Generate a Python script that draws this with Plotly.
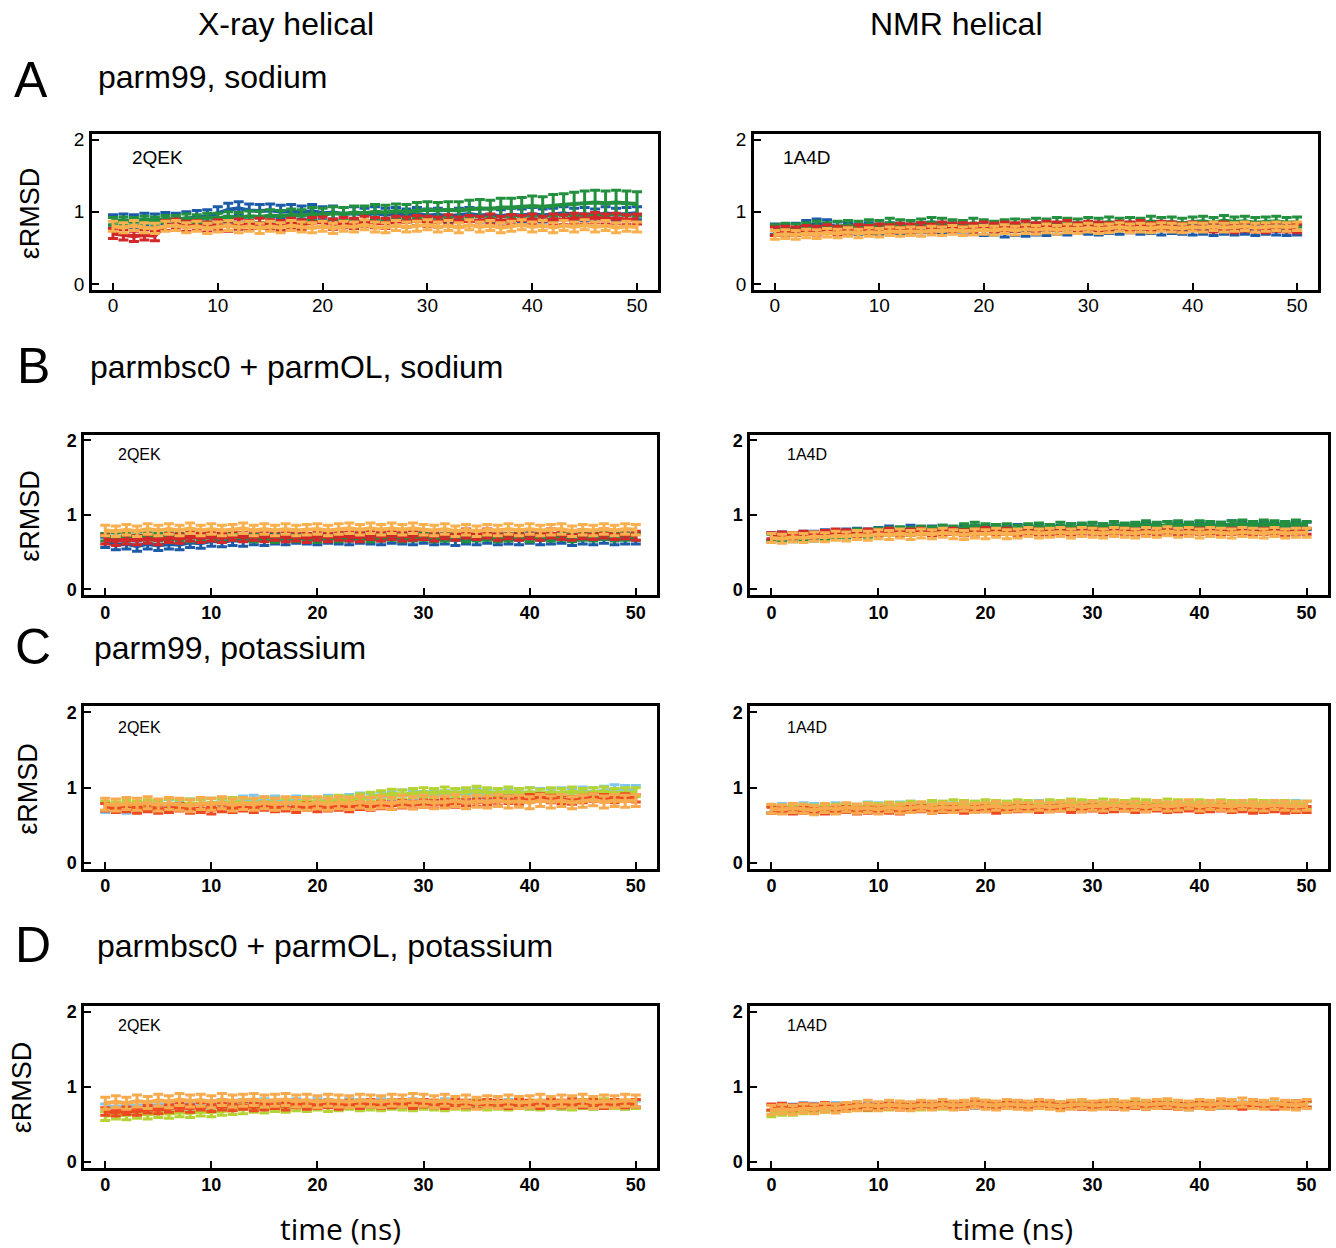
import plotly.graph_objects as go

W, H = 1336, 1248

# ---------------- data ----------------
time_ns = list(range(0, 51))
x_ticks = [0, 10, 20, 30, 40, 50]
y_ticks = [0, 1, 2]
col_titles = ["X-ray helical", "NMR helical"]
row_letters = ["A", "B", "C", "D"]
row_titles = ["parm99, sodium", "parmbsc0 + parmOL, sodium",
              "parm99, potassium", "parmbsc0 + parmOL, potassium"]
panel_labels = ["2QEK", "1A4D"]

sodium_colors = ["#1c5ba8", "#23903f", "#d3282a", "#f9b04e"]
potassium_colors = ["#7fc7ef", "#b6d336", "#ee4a22", "#f8aa4e"]

# Row A, left (2QEK, parm99 sodium): blue, green, red, orange
A_L_blue = [0.87,0.88,0.87,0.89,0.88,0.90,0.89,0.91,0.93,0.94,0.98,1.03,1.05,1.02,1.01,1.02,1.00,1.01,0.99,1.01,0.98,0.99,0.97,0.98,0.96,0.98,0.96,0.97,0.95,0.97,0.95,0.96,0.94,0.96,0.97,0.95,0.96,0.94,0.96,0.95,0.97,0.95,0.96,0.98,0.96,0.97,0.95,0.98,0.96,0.97,0.98]
A_L_green = [0.87,0.88,0.87,0.89,0.88,0.90,0.89,0.91,0.90,0.92,0.91,0.93,0.92,0.94,0.93,0.95,0.94,0.96,0.95,0.97,0.96,0.98,0.97,0.99,0.98,1.00,0.99,1.01,1.00,1.02,1.03,1.02,1.03,1.02,1.04,1.05,1.04,1.06,1.06,1.07,1.08,1.07,1.09,1.10,1.11,1.12,1.13,1.12,1.13,1.12,1.11]
A_L_red = [0.70,0.68,0.66,0.68,0.67,0.81,0.83,0.80,0.81,0.79,0.82,0.80,0.83,0.81,0.84,0.82,0.81,0.84,0.82,0.85,0.86,0.83,0.85,0.84,0.87,0.85,0.84,0.87,0.86,0.88,0.87,0.86,0.89,0.86,0.88,0.87,0.90,0.87,0.89,0.88,0.90,0.87,0.90,0.89,0.91,0.90,0.92,0.90,0.91,0.89,0.90]
A_L_orange = [0.80,0.78,0.81,0.78,0.77,0.80,0.81,0.78,0.80,0.77,0.79,0.81,0.78,0.80,0.77,0.80,0.78,0.81,0.79,0.78,0.80,0.77,0.80,0.79,0.82,0.79,0.78,0.81,0.79,0.80,0.82,0.79,0.81,0.78,0.82,0.79,0.81,0.78,0.80,0.82,0.79,0.81,0.78,0.81,0.79,0.82,0.79,0.81,0.78,0.80,0.79]
A_L_green_err = [0.05,0.05,0.05,0.05,0.05,0.05,0.06,0.06,0.06,0.06,0.07,0.07,0.07,0.07,0.08,0.08,0.08,0.08,0.08,0.09,0.09,0.09,0.09,0.09,0.10,0.10,0.10,0.10,0.10,0.11,0.11,0.11,0.11,0.12,0.12,0.12,0.12,0.13,0.13,0.13,0.14,0.14,0.15,0.15,0.16,0.17,0.17,0.17,0.17,0.17,0.17]
A_L_err = [0.09, None, 0.07, 0.07]

# Row A, right (1A4D)
A_R_blue = [0.76,0.75,0.77,0.81,0.83,0.82,0.79,0.78,0.76,0.78,0.76,0.78,0.77,0.76,0.78,0.79,0.77,0.78,0.75,0.76,0.74,0.75,0.72,0.74,0.73,0.75,0.74,0.76,0.75,0.77,0.76,0.75,0.77,0.76,0.78,0.76,0.77,0.75,0.77,0.76,0.75,0.76,0.74,0.76,0.75,0.76,0.74,0.76,0.75,0.74,0.75]
A_R_green = [0.75,0.77,0.76,0.78,0.80,0.78,0.80,0.81,0.80,0.82,0.81,0.84,0.82,0.81,0.83,0.85,0.84,0.82,0.81,0.84,0.82,0.80,0.82,0.83,0.82,0.84,0.83,0.85,0.84,0.83,0.85,0.84,0.86,0.84,0.85,0.84,0.87,0.85,0.86,0.84,0.86,0.87,0.85,0.88,0.86,0.87,0.85,0.86,0.87,0.85,0.86]
A_R_red = [0.73,0.74,0.73,0.75,0.74,0.76,0.74,0.73,0.76,0.75,0.77,0.76,0.78,0.77,0.79,0.77,0.80,0.78,0.79,0.78,0.80,0.78,0.80,0.79,0.81,0.79,0.81,0.80,0.82,0.79,0.81,0.80,0.79,0.81,0.80,0.82,0.79,0.81,0.80,0.78,0.80,0.79,0.78,0.80,0.77,0.79,0.78,0.77,0.79,0.78,0.77]
A_R_orange = [0.68,0.69,0.68,0.70,0.69,0.71,0.70,0.72,0.70,0.72,0.71,0.73,0.72,0.73,0.72,0.74,0.73,0.75,0.73,0.74,0.75,0.74,0.76,0.74,0.76,0.75,0.77,0.75,0.77,0.76,0.78,0.76,0.77,0.79,0.77,0.78,0.77,0.79,0.78,0.77,0.79,0.78,0.80,0.78,0.79,0.80,0.78,0.79,0.80,0.79,0.80]
A_R_err = [0.07, 0.07, 0.06, 0.06]

# Row B, left (2QEK, parmbsc0 + parmOL sodium)
B_L_blue = [0.63,0.60,0.61,0.58,0.61,0.59,0.61,0.60,0.63,0.62,0.65,0.64,0.66,0.65,0.67,0.66,0.68,0.67,0.69,0.68,0.67,0.69,0.68,0.67,0.69,0.68,0.67,0.69,0.68,0.67,0.69,0.67,0.68,0.66,0.68,0.67,0.69,0.67,0.68,0.67,0.69,0.67,0.68,0.69,0.66,0.68,0.67,0.69,0.67,0.68,0.68]
B_L_green = [0.70,0.71,0.70,0.72,0.71,0.70,0.71,0.70,0.69,0.71,0.70,0.69,0.71,0.70,0.69,0.70,0.68,0.70,0.69,0.70,0.68,0.70,0.69,0.70,0.71,0.69,0.70,0.71,0.69,0.70,0.71,0.69,0.70,0.71,0.69,0.70,0.71,0.69,0.70,0.71,0.69,0.71,0.70,0.71,0.69,0.71,0.70,0.72,0.70,0.71,0.71]
B_L_red = [0.67,0.65,0.67,0.66,0.68,0.66,0.69,0.68,0.71,0.69,0.71,0.69,0.72,0.70,0.72,0.70,0.72,0.70,0.71,0.69,0.72,0.70,0.72,0.71,0.70,0.73,0.71,0.73,0.71,0.72,0.73,0.71,0.74,0.72,0.75,0.73,0.75,0.72,0.74,0.72,0.74,0.72,0.75,0.73,0.72,0.74,0.73,0.75,0.73,0.74,0.72]
B_L_orange = [0.79,0.78,0.80,0.78,0.81,0.79,0.81,0.79,0.82,0.79,0.81,0.79,0.80,0.82,0.79,0.81,0.79,0.81,0.79,0.80,0.81,0.79,0.81,0.82,0.80,0.82,0.80,0.82,0.80,0.82,0.80,0.79,0.81,0.78,0.80,0.78,0.80,0.79,0.81,0.79,0.81,0.79,0.80,0.81,0.78,0.80,0.79,0.81,0.79,0.81,0.80]
B_L_err = [0.07, 0.05, 0.06, 0.07]

# Row B, right (1A4D)
B_R_blue = [0.71,0.72,0.71,0.73,0.73,0.75,0.74,0.76,0.77,0.76,0.78,0.80,0.78,0.81,0.79,0.80,0.81,0.79,0.80,0.81,0.80,0.82,0.80,0.82,0.81,0.83,0.82,0.81,0.83,0.82,0.84,0.83,0.85,0.83,0.84,0.85,0.83,0.86,0.84,0.85,0.86,0.84,0.85,0.87,0.86,0.85,0.86,0.84,0.86,0.85,0.85]
B_R_green = [0.69,0.70,0.69,0.71,0.70,0.72,0.73,0.74,0.76,0.75,0.77,0.78,0.79,0.78,0.80,0.79,0.81,0.80,0.83,0.85,0.83,0.82,0.83,0.81,0.83,0.84,0.82,0.85,0.83,0.84,0.85,0.83,0.86,0.84,0.85,0.87,0.85,0.86,0.87,0.85,0.87,0.86,0.85,0.87,0.88,0.86,0.88,0.87,0.86,0.88,0.86]
B_R_red = [0.72,0.73,0.72,0.74,0.73,0.75,0.77,0.76,0.75,0.77,0.76,0.78,0.76,0.77,0.78,0.76,0.77,0.78,0.76,0.77,0.79,0.77,0.78,0.76,0.78,0.77,0.76,0.78,0.77,0.76,0.78,0.77,0.76,0.78,0.77,0.78,0.76,0.78,0.77,0.76,0.78,0.77,0.76,0.78,0.77,0.76,0.78,0.77,0.76,0.78,0.78]
B_R_orange = [0.69,0.68,0.70,0.69,0.71,0.70,0.72,0.71,0.73,0.72,0.74,0.73,0.75,0.73,0.75,0.74,0.76,0.74,0.73,0.75,0.74,0.76,0.74,0.75,0.77,0.75,0.76,0.77,0.75,0.77,0.76,0.75,0.77,0.76,0.75,0.77,0.76,0.78,0.76,0.77,0.75,0.77,0.76,0.75,0.77,0.76,0.75,0.77,0.75,0.76,0.76]
B_R_err = [0.05, 0.05, 0.04, 0.06]

# Row C, left (2QEK, parm99 potassium): light blue, yellow-green, orange-red, light orange
C_L_lblue = [0.73,0.74,0.72,0.75,0.77,0.76,0.78,0.77,0.79,0.78,0.80,0.81,0.80,0.83,0.84,0.82,0.83,0.81,0.83,0.82,0.81,0.84,0.83,0.85,0.87,0.86,0.88,0.89,0.91,0.90,0.89,0.91,0.90,0.92,0.91,0.93,0.91,0.92,0.93,0.92,0.94,0.93,0.92,0.94,0.93,0.95,0.94,0.96,0.98,0.97,0.97]
C_L_ygreen = [0.76,0.75,0.77,0.76,0.78,0.77,0.79,0.78,0.79,0.78,0.80,0.79,0.81,0.80,0.79,0.81,0.80,0.79,0.81,0.82,0.80,0.82,0.84,0.83,0.86,0.88,0.90,0.92,0.91,0.93,0.94,0.93,0.95,0.93,0.94,0.96,0.94,0.93,0.95,0.93,0.94,0.92,0.94,0.93,0.95,0.93,0.94,0.95,0.93,0.94,0.94]
C_L_ored = [0.74,0.72,0.73,0.71,0.73,0.71,0.72,0.74,0.71,0.72,0.70,0.73,0.72,0.74,0.72,0.75,0.73,0.74,0.72,0.75,0.73,0.74,0.75,0.73,0.76,0.75,0.77,0.76,0.78,0.77,0.79,0.78,0.80,0.79,0.81,0.80,0.82,0.81,0.84,0.83,0.86,0.87,0.85,0.84,0.83,0.85,0.87,0.86,0.85,0.87,0.86]
C_L_lorange = [0.78,0.77,0.79,0.78,0.80,0.77,0.79,0.78,0.76,0.79,0.78,0.80,0.77,0.79,0.78,0.80,0.78,0.80,0.79,0.78,0.80,0.78,0.80,0.79,0.81,0.79,0.81,0.79,0.82,0.80,0.82,0.80,0.81,0.83,0.80,0.82,0.81,0.83,0.81,0.82,0.80,0.83,0.81,0.83,0.80,0.82,0.84,0.81,0.83,0.82,0.83]
C_L_err = [0.06, 0.06, 0.05, 0.08]

# Row C, right (1A4D)
C_R_lblue = [0.72,0.74,0.73,0.75,0.74,0.73,0.75,0.74,0.73,0.76,0.75,0.74,0.76,0.77,0.75,0.76,0.77,0.75,0.76,0.77,0.75,0.76,0.77,0.75,0.76,0.78,0.76,0.77,0.75,0.77,0.78,0.76,0.77,0.78,0.76,0.78,0.77,0.76,0.78,0.77,0.76,0.78,0.77,0.78,0.76,0.77,0.78,0.76,0.77,0.78,0.77]
C_R_ygreen = [0.71,0.72,0.71,0.73,0.72,0.71,0.73,0.74,0.73,0.75,0.74,0.76,0.75,0.77,0.76,0.78,0.77,0.79,0.78,0.77,0.79,0.78,0.77,0.79,0.78,0.77,0.79,0.78,0.80,0.79,0.78,0.80,0.79,0.78,0.80,0.79,0.78,0.80,0.79,0.78,0.79,0.77,0.79,0.78,0.77,0.79,0.78,0.77,0.78,0.77,0.77]
C_R_ored = [0.70,0.71,0.69,0.70,0.71,0.69,0.70,0.71,0.69,0.70,0.71,0.70,0.69,0.71,0.72,0.70,0.71,0.72,0.70,0.71,0.72,0.70,0.71,0.72,0.73,0.71,0.72,0.73,0.71,0.72,0.73,0.71,0.72,0.73,0.71,0.72,0.73,0.71,0.72,0.73,0.71,0.72,0.73,0.71,0.72,0.70,0.71,0.72,0.70,0.71,0.71]
C_R_lorange = [0.72,0.71,0.73,0.72,0.70,0.73,0.71,0.74,0.72,0.73,0.71,0.74,0.72,0.73,0.75,0.72,0.74,0.73,0.75,0.73,0.74,0.76,0.73,0.75,0.74,0.76,0.74,0.75,0.77,0.74,0.76,0.75,0.77,0.75,0.76,0.74,0.77,0.75,0.76,0.78,0.75,0.77,0.76,0.75,0.77,0.76,0.75,0.77,0.76,0.75,0.76]
C_R_err = [0.05, 0.05, 0.04, 0.06]

# Row D, left (2QEK, parmbsc0 + parmOL potassium)
D_L_lblue = [0.72,0.74,0.73,0.75,0.74,0.76,0.75,0.77,0.75,0.77,0.76,0.78,0.76,0.78,0.77,0.79,0.77,0.78,0.79,0.77,0.79,0.78,0.77,0.79,0.78,0.77,0.79,0.78,0.77,0.79,0.78,0.77,0.79,0.78,0.77,0.79,0.77,0.76,0.78,0.77,0.75,0.77,0.76,0.75,0.77,0.76,0.75,0.77,0.76,0.75,0.76]
D_L_ygreen = [0.61,0.63,0.62,0.64,0.63,0.65,0.64,0.66,0.65,0.67,0.66,0.68,0.69,0.70,0.72,0.71,0.73,0.72,0.74,0.73,0.75,0.73,0.74,0.76,0.74,0.75,0.74,0.76,0.75,0.74,0.76,0.75,0.74,0.76,0.75,0.77,0.75,0.76,0.75,0.77,0.76,0.75,0.77,0.76,0.75,0.77,0.76,0.78,0.77,0.76,0.77]
D_L_ored = [0.67,0.66,0.68,0.67,0.70,0.69,0.71,0.73,0.71,0.74,0.72,0.74,0.73,0.75,0.73,0.74,0.76,0.74,0.77,0.75,0.76,0.77,0.75,0.77,0.76,0.78,0.76,0.77,0.78,0.76,0.78,0.77,0.76,0.78,0.77,0.76,0.78,0.77,0.76,0.78,0.77,0.76,0.78,0.77,0.79,0.77,0.78,0.76,0.78,0.77,0.78]
D_L_lorange = [0.78,0.80,0.78,0.81,0.79,0.82,0.80,0.83,0.81,0.82,0.80,0.83,0.81,0.82,0.83,0.81,0.82,0.83,0.81,0.82,0.80,0.82,0.81,0.80,0.82,0.81,0.80,0.82,0.81,0.83,0.82,0.80,0.82,0.79,0.81,0.78,0.80,0.79,0.81,0.79,0.80,0.82,0.79,0.81,0.80,0.82,0.79,0.81,0.80,0.82,0.81]
D_L_err = [0.05, 0.06, 0.05, 0.08]

# Row D, right (1A4D)
D_R_lblue = [0.72,0.74,0.73,0.75,0.74,0.73,0.75,0.74,0.76,0.75,0.74,0.76,0.75,0.74,0.76,0.75,0.76,0.74,0.76,0.75,0.77,0.75,0.76,0.77,0.75,0.76,0.77,0.75,0.76,0.77,0.75,0.76,0.77,0.75,0.76,0.77,0.76,0.75,0.74,0.73,0.75,0.76,0.75,0.77,0.76,0.75,0.77,0.76,0.75,0.77,0.76]
D_R_ygreen = [0.64,0.66,0.66,0.68,0.69,0.70,0.72,0.71,0.73,0.72,0.74,0.73,0.75,0.74,0.73,0.75,0.74,0.76,0.75,0.77,0.78,0.76,0.77,0.75,0.76,0.77,0.75,0.76,0.77,0.75,0.76,0.77,0.75,0.76,0.77,0.75,0.76,0.77,0.75,0.76,0.77,0.75,0.76,0.77,0.75,0.76,0.77,0.75,0.76,0.77,0.76]
D_R_ored = [0.73,0.74,0.72,0.74,0.73,0.75,0.73,0.74,0.75,0.73,0.75,0.74,0.73,0.75,0.76,0.74,0.75,0.76,0.74,0.76,0.77,0.75,0.76,0.77,0.75,0.76,0.77,0.75,0.76,0.74,0.76,0.75,0.74,0.76,0.75,0.74,0.76,0.75,0.74,0.76,0.75,0.74,0.76,0.75,0.74,0.76,0.75,0.74,0.76,0.77,0.77]
D_R_lorange = [0.69,0.70,0.69,0.71,0.70,0.72,0.71,0.73,0.74,0.76,0.74,0.76,0.75,0.74,0.76,0.75,0.77,0.75,0.76,0.78,0.76,0.75,0.77,0.76,0.75,0.77,0.76,0.74,0.76,0.77,0.75,0.76,0.77,0.75,0.78,0.76,0.77,0.78,0.76,0.75,0.77,0.76,0.78,0.77,0.79,0.77,0.76,0.78,0.76,0.75,0.77]
D_R_err = [0.04, 0.04, 0.04, 0.06]

panels = [
    # (series, errors, colors, row, col)
    ([A_L_blue, A_L_green, A_L_red, A_L_orange], [A_L_err[0], A_L_green_err, A_L_err[2], A_L_err[3]], sodium_colors, 0, 0),
    ([A_R_blue, A_R_green, A_R_red, A_R_orange], A_R_err, sodium_colors, 0, 1),
    ([B_L_blue, B_L_green, B_L_red, B_L_orange], B_L_err, sodium_colors, 1, 0),
    ([B_R_blue, B_R_green, B_R_red, B_R_orange], B_R_err, sodium_colors, 1, 1),
    ([C_L_lblue, C_L_ygreen, C_L_ored, C_L_lorange], C_L_err, potassium_colors, 2, 0),
    ([C_R_lblue, C_R_ygreen, C_R_ored, C_R_lorange], C_R_err, potassium_colors, 2, 1),
    ([D_L_lblue, D_L_ygreen, D_L_ored, D_L_lorange], D_L_err, potassium_colors, 3, 0),
    ([D_R_lblue, D_R_ygreen, D_R_ored, D_R_lorange], D_R_err, potassium_colors, 3, 1),
]

# ---------------- layout geometry (pixels) ----------------
row_y = [(130, 287), (433, 595), (707, 871), (1009, 1172)]
col_x = {0: [(92, 658), (84, 657), (84, 657), (84, 657)],
         1: [(754, 1318), (750, 1328), (750, 1328), (750, 1328)]}


def px_x(p):
    return p / W


def px_y(p):
    return 1 - p / H


fig = go.Figure()
FONT = "Liberation Sans, Arial, sans-serif"
layout = dict(
    width=W, height=H,
    margin=dict(l=0, r=0, t=0, b=0),
    paper_bgcolor="white", plot_bgcolor="white",
    showlegend=False,
    font=dict(family=FONT, color="black"),
)

for i, (series, errs, colors, r, c) in enumerate(panels):
    k = i + 1
    xa = "x" if k == 1 else f"x{k}"
    ya = "y" if k == 1 else f"y{k}"
    for s, e, colr in zip(series, errs, colors):
        if isinstance(e, list):
            err = dict(type="data", array=e, visible=True)
        else:
            err = dict(type="constant", value=e, visible=True)
        err.update(color=colr, thickness=3, width=5)
        fig.add_trace(go.Scatter(
            x=time_ns, y=s, mode="lines",
            line=dict(color=colr, width=4),
            error_y=err, xaxis=xa, yaxis=ya, hoverinfo="skip",
        ))
    x0, x1 = col_x[c][r]
    y0, y1 = row_y[r]
    if r == 0:
        tf = dict(family=FONT, size=19, color="black")
        xstand = -3
    else:
        tf = dict(family=FONT, size=18, color="black", weight="bold")
        xstand = -1
    axis_common = dict(showline=True, linecolor="black", linewidth=2.5, mirror=True,
                       ticks="inside", ticklen=7, tickwidth=2, tickcolor="black",
                       showgrid=False, zeroline=False, tickfont=tf, fixedrange=True)
    layout["xaxis" if k == 1 else f"xaxis{k}"] = dict(
        domain=[px_x(x0), px_x(x1)], anchor=ya, range=[-2, 52],
        tickmode="array", tickvals=x_ticks, ticktext=[str(v) for v in x_ticks],
        ticklabelstandoff=xstand, **axis_common)
    layout["yaxis" if k == 1 else f"yaxis{k}"] = dict(
        domain=[px_y(y1), px_y(y0)], anchor=xa, range=[-0.08, 2.08],
        tickmode="array", tickvals=y_ticks, ticktext=[str(v) for v in y_ticks],
        ticklabelstandoff=1, **axis_common)

ann = []


def add_text(text, x, y, size, xanchor="center", yanchor="middle", angle=0, family=FONT, weight=None):
    f = dict(family=family, size=size, color="black")
    if weight:
        f["weight"] = weight
    ann.append(dict(text=text, x=px_x(x), y=px_y(y), xref="paper", yref="paper",
                    xanchor=xanchor, yanchor=yanchor, showarrow=False, textangle=angle, font=f))


add_text(col_titles[0], 286, 19, 32)
add_text(col_titles[1], 956, 19, 32)

letter_pos = [(31, 76), (33, 364), (33, 647), (33, 948)]
title_pos = [(96, 73), (88, 365), (92, 648), (95, 949)]
ylab_pos = [(30, 210), (30, 515), (28, 790), (22, 1091)]
lab_L = [(130, 154), (116, 453), (116, 728), (116, 1029)]
lab_R = [(781, 154), (785, 453), (785, 728), (785, 1029)]
lab_size = [19, 16, 16, 16]

for r in range(4):
    add_text(row_letters[r], *letter_pos[r], 50)
    add_text(row_titles[r], *title_pos[r], 32, xanchor="left")
    add_text("εRMSD", *ylab_pos[r], 27, angle=-90)
    add_text(panel_labels[0], *lab_L[r], lab_size[r], xanchor="left")
    add_text(panel_labels[1], *lab_R[r], lab_size[r], xanchor="left")

add_text("time (ns)", 340, 1233, 30, family="Open Sans, Lato, sans-serif")
add_text("time (ns)", 1012, 1233, 30, family="Open Sans, Lato, sans-serif")

layout["annotations"] = ann
fig.update_layout(**layout)
fig.write_html("out.html")
